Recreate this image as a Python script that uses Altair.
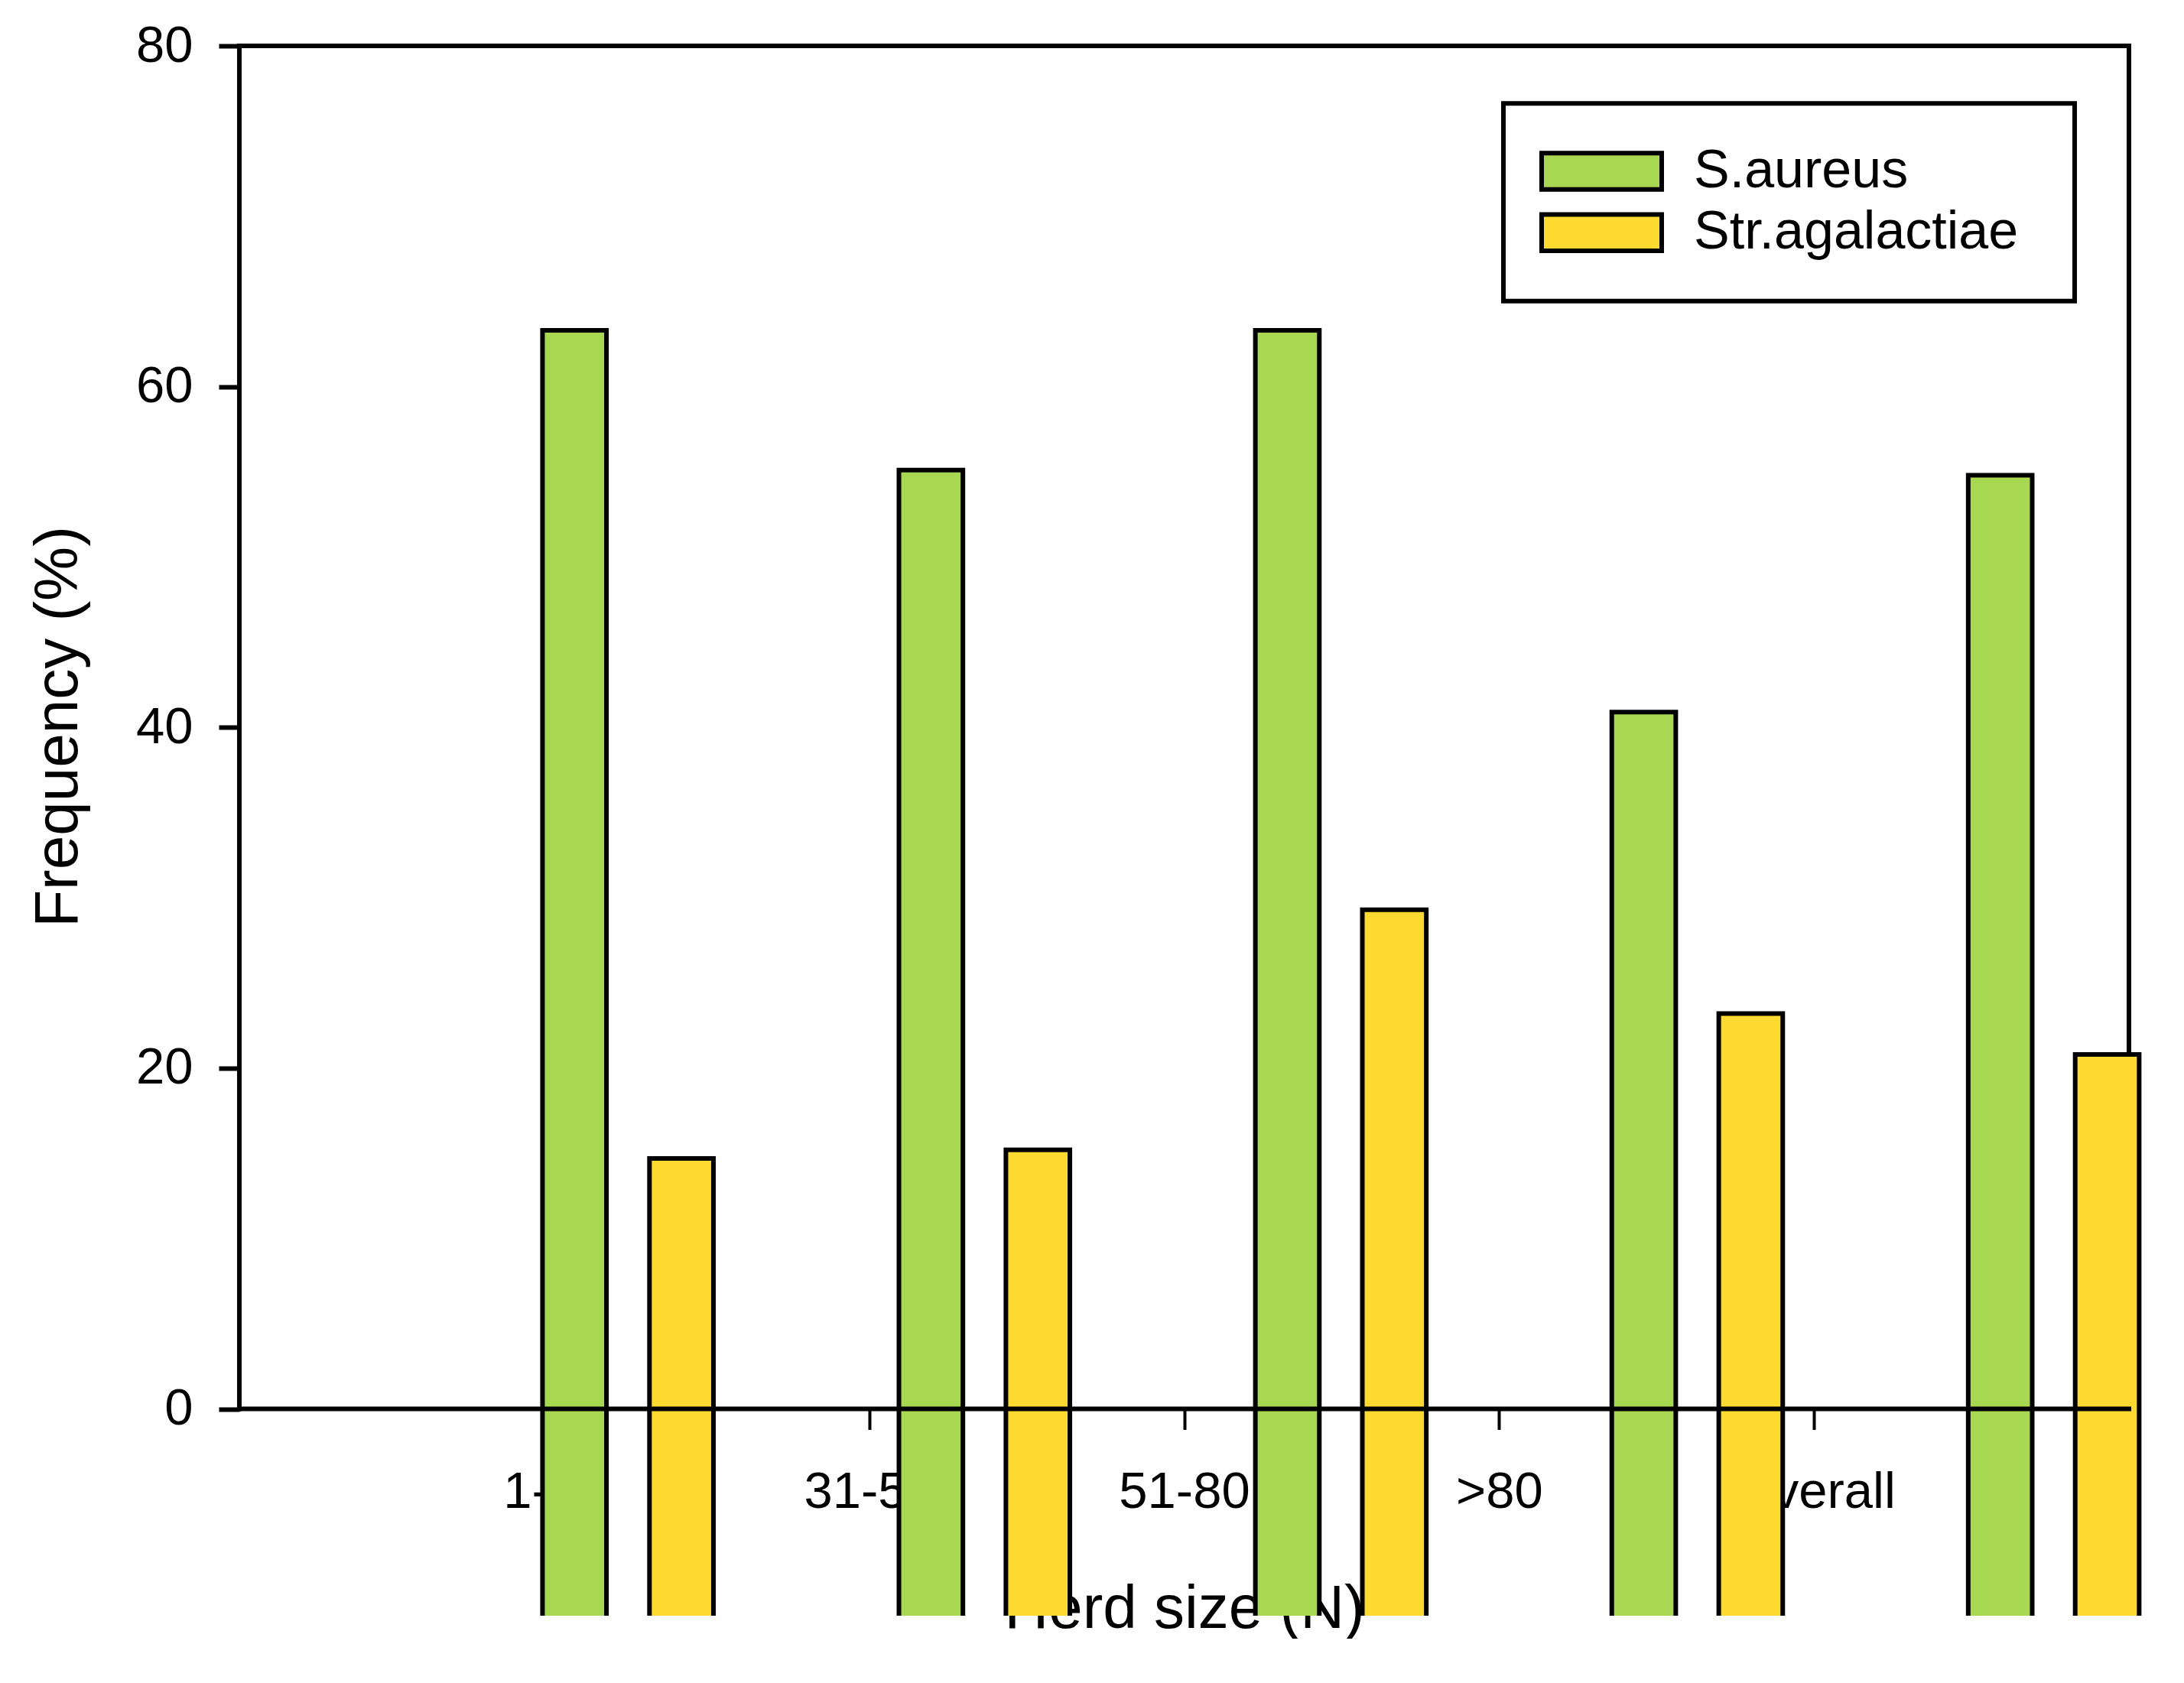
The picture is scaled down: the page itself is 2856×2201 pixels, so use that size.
import altair as alt
import pandas as pd

# ---------------- data ----------------
CATS = ["1-30", "31-50", "51-80", ">80", "Overall"]
SERIES = ["S.aureus", "Str.agalactiae"]
S_AUREUS = [63.3, 55.1, 63.3, 40.9, 54.8]
STR_AGAL = [14.7, 15.2, 29.3, 23.2, 20.8]
Y_TICKS = [0, 20, 40, 60, 80]
COLORS = ["#A8D852", "#FED92F"]

# ---------------- layout constants ----------------
FONT = "Liberation Sans"
W, H = 2500, 2053          # plot group (bars are clipped at its bottom)
FRAME_W = 2471             # width of the framed axis box
Y_MIN, Y_MAX = -12.14, 80
X_MIN, X_MAX = 0, len(CATS) + 1
LW = 6

zero_px = H * (Y_MAX - 0) / (Y_MAX - Y_MIN)
x_axis_offset = -(H - zero_px)

bars_df = pd.DataFrame({
    "cat": CATS * 2,
    "series": [SERIES[0]] * len(CATS) + [SERIES[1]] * len(CATS),
    "value": S_AUREUS + STR_AGAL,
})
bars_df["base"] = Y_MIN - 1

y_scale = alt.Scale(domain=[Y_MIN, Y_MAX], nice=False, zero=False)
color_scale = alt.Scale(domain=SERIES, range=COLORS)


def frame_x_scale():
    return alt.Scale(domain=[X_MIN, X_MAX], range=[0, FRAME_W], nice=False, zero=False)


label_expr = "[" + ",".join("'" + c + "'" for c in CATS) + "][datum.value - 1]"

x_axis = alt.Axis(
    values=list(range(1, len(CATS) + 1)), labelExpr=label_expr,
    domain=False, grid=False, tickSize=27, tickWidth=4, tickColor="black",
    labelFont=FONT, labelFontSize=67, labelColor="black", labelBaseline="alphabetic",
    labelPadding=102, labelAlign="center", labelFlush=False, labelOverlap=False,
    labelLimit=0,
    offset=x_axis_offset,
    title="Herd size (N)", titleFont=FONT, titleFontSize=80, titleFontWeight="normal",
    titleColor="black", titleBaseline="alphabetic", titleY=286, titleLimit=0,
)

y_axis = alt.Axis(
    values=Y_TICKS, domain=False, grid=False, tickSize=27, tickWidth=LW, tickColor="black",
    labelFont=FONT, labelFontSize=67, labelColor="black", labelPadding=34,
    title="Frequency (%)", titleFont=FONT, titleFontSize=80, titleFontWeight="normal",
    titleColor="black", titleAngle=270, titleBaseline="alphabetic", titleAlign="center",
    titleX=-213, titleY=890, titleLimit=0,
)

frame_df = pd.DataFrame({
    "x": [X_MIN, X_MIN, X_MAX],
    "x2": [X_MAX, X_MIN, X_MAX],
    "y": [Y_MAX, 0, 0],
    "y2": [Y_MAX, Y_MAX, Y_MAX],
})

frame = alt.Chart(frame_df).mark_rule(color="black", strokeWidth=LW, strokeCap="square").encode(
    x=alt.X("x:Q", scale=frame_x_scale(), axis=x_axis),
    x2="x2:Q",
    y=alt.Y("y:Q", scale=y_scale, axis=y_axis),
    y2="y2:Q",
)

# group spacing & bar offsets
STEP = 466.1
R0 = 275.15
bars = alt.Chart(bars_df).mark_bar(stroke="black", strokeWidth=LW, clip=True).encode(
    x=alt.X("cat:N", sort=CATS,
            scale=alt.Scale(domain=CATS, range=[R0, R0 + STEP * len(CATS)],
                            paddingInner=0, paddingOuter=0),
            axis=None),
    xOffset=alt.XOffset("series:N", sort=SERIES,
                        scale=alt.Scale(domain=SERIES, paddingInner=0.402, paddingOuter=0.867)),
    y=alt.Y("value:Q", scale=y_scale, axis=None),
    y2="base:Q",
    color=alt.Color("series:N", scale=color_scale, legend=None),
)

zero_df = pd.DataFrame({"x": [X_MIN], "x2": [X_MAX], "y": [0]})
zero = alt.Chart(zero_df).mark_rule(color="black", strokeWidth=LW, strokeCap="square").encode(
    x=alt.X("x:Q", scale=frame_x_scale(), axis=None),
    x2="x2:Q",
    y=alt.Y("y:Q", scale=y_scale, axis=None),
)

main = alt.layer(frame, bars, zero).resolve_scale(x="independent").resolve_axis(
    x="independent", y="independent")

# ---------------- legend ----------------
legend_df = pd.DataFrame({"series": SERIES})
leg_scale = alt.Scale(domain=SERIES, range=[123.95, 284.35], paddingInner=0.4077, paddingOuter=0.2039)

box = alt.Chart(pd.DataFrame({"k": [0]})).mark_rect(
    fill="white", stroke="black", strokeWidth=LW).encode(
    x=alt.value(1653), x2=alt.value(2400), y=alt.value(75.3), y2=alt.value(333.7))

swatches = alt.Chart(legend_df).mark_rect(stroke="black", strokeWidth=LW).encode(
    x=alt.value(1703), x2=alt.value(1860),
    y=alt.Y("series:N", sort=SERIES, scale=leg_scale, axis=None),
    color=alt.Color("series:N", scale=color_scale, legend=None),
)

texts = alt.Chart(legend_df).mark_text(
    align="left", baseline="middle", font=FONT, fontSize=70, color="black").encode(
    x=alt.value(1902),
    y=alt.Y("series:N", sort=SERIES, scale=leg_scale, axis=None),
    text="series:N",
)

legend = alt.layer(box, swatches, texts)

chart = alt.layer(main, legend).resolve_scale(x="independent", y="independent").properties(
    width=W, height=H,
    autosize=alt.AutoSizeParams(type="none"),
    padding={"left": 305, "top": 52, "right": 20, "bottom": 30},
    background="white",
).configure_view(stroke=None)

chart.save("out.html", embed_options={"renderer": "svg", "actions": False})
